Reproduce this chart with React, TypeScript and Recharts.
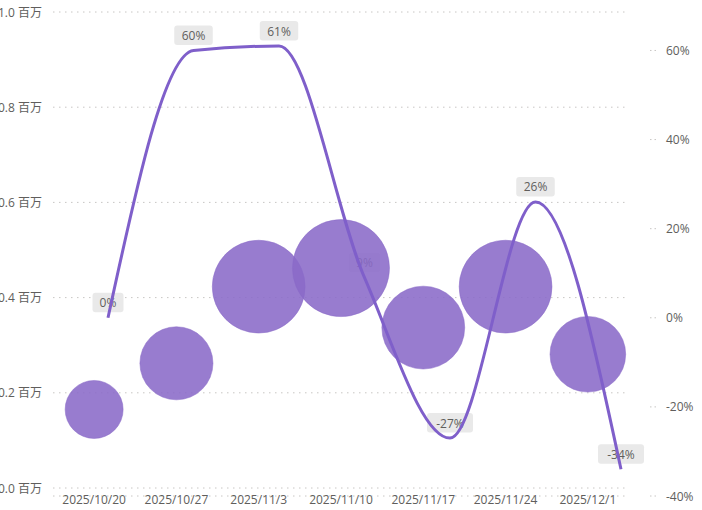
import React from "react";
import { ComposedChart, Scatter, Line, XAxis, YAxis, ZAxis, CartesianGrid } from "recharts";

// weekly values (bubble y and size) and week-over-week change (line, %)
const weeks = ["2025/10/20", "2025/10/27", "2025/11/3", "2025/11/10", "2025/11/17", "2025/11/24", "2025/12/1"];
const amounts = [165000, 262000, 423000, 462000, 337000, 423000, 281000];
const changes = [0, 60, 61, 9, -27, 26, -34];

const leftTicks = [0, 200000, 400000, 600000, 800000, 1000000];
const rightTicks = [-40, -20, 0, 20, 40, 60];

const rows = weeks.map((date, i) => ({ date, idx: i, value: amounts[i], pct: changes[i] }));

const TEXT = "#605E5C";
const GRID = "#C8C6C4";
const FONT = "'Open Sans', 'Noto Sans CJK SC', sans-serif";

const LeftTick = ({ x, y, payload }: any) => (
  <text x={x} y={y} textAnchor="end" dominantBaseline="central" fontSize={12} fill={TEXT}>
    {(payload.value / 1e6).toFixed(1)} 百万
  </text>
);

const RightTick = ({ x, y, payload }: any) => (
  <g>
    <line x1={x + 21} x2={x + 27} y1={y} y2={y} stroke={GRID} strokeDasharray="1.5 3" />
    <text x={x + 37} y={y} textAnchor="start" dominantBaseline="central" fontSize={12} fill={TEXT}>
      {payload.value}%
    </text>
  </g>
);

const DateTick = ({ x, y, payload }: any) => (
  <text x={x} y={y + 8} textAnchor="middle" fontSize={12} fill={TEXT}>
    {payload.value}
  </text>
);

// grey data label drawn as a scatter shape, so the bubbles can cover it
const PctLabel = (props: any) => {
  const { cx, cy, payload } = props;
  const text = `${payload.pct}%`;
  const w = text.length * 7.5 + 16;
  return (
    <g>
      <rect x={cx - w / 2} y={cy - 25} width={w} height={19.5} rx={3} fill="#E9E9E9" />
      <text x={cx} y={cy - 15} textAnchor="middle" dominantBaseline="central" fontSize={12} fill={TEXT}>
        {text}
      </text>
    </g>
  );
};

export default function App() {
  return (
    <div style={{ position: "absolute", left: 0, top: 0, fontFamily: FONT }}>
      <ComposedChart width={702} height={510} data={rows} margin={{ top: 12, right: 0, bottom: 0, left: 0 }}>
        <CartesianGrid
          vertical={false}
          xAxisId="cat"
          yAxisId="left"
          stroke={GRID}
          strokeDasharray="1.5 4.5"
        />
        <XAxis
          xAxisId="cat"
          dataKey="date"
          type="category"
          scale="band"
          interval={0}
          height={14}
          axisLine={false}
          tickLine={false}
          tickSize={0}
          tickMargin={0}
          tick={<DateTick />}
        />
        <XAxis
          xAxisId="line"
          dataKey="idx"
          type="number"
          domain={[0, 6]}
          padding={{ left: 55, right: 8 }}
          hide
        />
        <YAxis
          yAxisId="left"
          dataKey="value"
          width={53}
          domain={[0, 1000000]}
          ticks={leftTicks}
          interval={0}
          padding={{ top: 0, bottom: 8 }}
          axisLine={false}
          tickLine={false}
          tickSize={0}
          tickMargin={11}
          tick={<LeftTick />}
        />
        <YAxis
          yAxisId="right"
          orientation="right"
          width={73}
          domain={[-40, 60]}
          ticks={rightTicks}
          interval={0}
          padding={{ top: 34, bottom: 0 }}
          axisLine={false}
          tickLine={false}
          tickSize={0}
          tickMargin={0}
          tick={<RightTick />}
        />
        <ZAxis dataKey="value" domain={[0, 1000000]} range={[0, 16000]} />
        <Scatter
          xAxisId="line"
          yAxisId="right"
          dataKey="pct"
          shape={<PctLabel />}
          isAnimationActive={false}
        />
        <Scatter
          xAxisId="cat"
          yAxisId="left"
          dataKey="value"
          fill="#8A6AC8"
          fillOpacity={0.88}
          stroke="#8A6AC8"
          strokeOpacity={0.5}
          isAnimationActive={false}
        />
        <Line
          xAxisId="line"
          yAxisId="right"
          dataKey="pct"
          type="monotone"
          stroke="#7F5FCA"
          strokeWidth={3}
          dot={false}
          activeDot={false}
          isAnimationActive={false}
          zIndex={700}
        />
      </ComposedChart>
    </div>
  );
}
